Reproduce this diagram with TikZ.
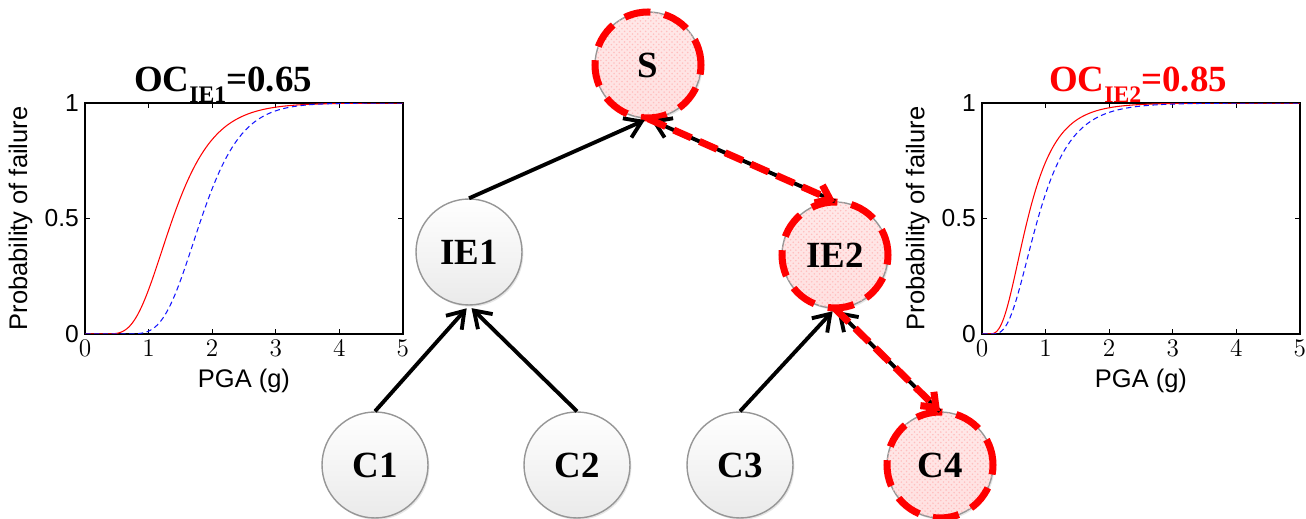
\documentclass[tikz,border=0pt]{standalone}
\usepackage{fontspec}
\setmainfont{Liberation Serif}
\setsansfont{Liberation Sans}
\usepackage{tikz,pgfplots}
\pgfplotsset{compat=1.18}
\usetikzlibrary{arrows.meta,shadows,patterns}
\definecolor{ocred}{RGB}{255,0,0}
\definecolor{rimgray}{RGB}{150,150,150}
\definecolor{ballgray}{RGB}{234,234,234}
\definecolor{fragblue}{RGB}{20,20,255}
\tikzset{
  fnode/.style={draw=rimgray, line width=0.8pt, circle, minimum size=2.12cm, inner sep=0pt,
                top color=white, bottom color=ballgray,
                drop shadow={opacity=0.2, shadow xshift=0.8pt, shadow yshift=-1pt},
                font=\fontsize{21}{21}\selectfont\bfseries},
  hotnode/.style={fnode, top color=red!9, bottom color=red!12,
                  postaction={pattern=crosshatch dots, pattern color=red!25},
                  postaction={draw=ocred, line width=4pt, dash pattern=on 15pt off 8pt}},
  arr/.style={draw=black, line width=2.2pt, shorten >=2pt,
              -{Straight Barb[length=9pt,width=12pt]}},
  hotarr/.style={draw=ocred, line width=4pt, dash pattern=on 11pt off 5pt,
                 -{Straight Barb[length=7pt,width=11pt]}},
  octitle/.style={anchor=base, font=\fontsize{21}{21}\selectfont\bfseries},
  % normal cdf of a lognormal fragility: median, dispersion
  declare function={zln(\x,\m,\b)=ln(\x/\m)/\b;
                    phi(\z)=1/(1+exp(-(0.07056*\z^3+1.5976*\z)));},
}
\pgfplotsset{
  fragaxis/.style={scale only axis, width=6.36cm, height=4.62cm, anchor=south west,
                   xmin=0, xmax=5, ymin=0, ymax=1,
                   xtick={0,...,5}, ytick={0,0.5,1}, yticklabels={0,0.5,1},
                   tick align=inside, major tick length=3pt,
                   axis line style={line width=0.7pt},
                   every tick/.style={black, line width=0.5pt},
                   tick label style={font=\sffamily\fontsize{14}{14}\selectfont},
                   label style={font=\sffamily\fontsize{14.5}{15}\selectfont},
                   xlabel={PGA (g)}, ylabel={Probability of failure}},
  redcurve/.style={ocred, line width=0.6pt, domain=0.005:5, samples=250},
  bluecurve/.style={fragblue, line width=0.6pt, dash pattern=on 3pt off 2pt, domain=0.005:5, samples=250},
}
\newcommand{\ocsub}[1]{\raisebox{-0.28em}{\fontsize{13.5}{13.5}\selectfont #1}}

\begin{document}
\begin{tikzpicture}[x=0.02cm, y=-0.02cm]
\useasboundingbox (0,0) rectangle (1306,519);

% Fragility plots
\coordinate (plotL) at (85,334);
\coordinate (plotR) at (982,334);
\begin{axis}[fragaxis, at={(plotL)}]
  \addplot[redcurve] {phi(zln(x,1.38,0.37))};
  \addplot[bluecurve] {phi(zln(x,1.83,0.27))};
\end{axis}
\begin{axis}[fragaxis, at={(plotR)}]
  \addplot[redcurve] {phi(zln(x,0.72,0.50))};
  \addplot[bluecurve] {phi(zln(x,0.88,0.47))};
\end{axis}

\node[octitle] (ocL) at (223,92) {OC\ocsub{IE1}=0.65};
\node[octitle, text=ocred] (ocR) at (1138,92) {OC\ocsub{IE2}=0.85};

% System tree
\node[hotnode] (S)   at (648,65)  {S};
\node[fnode]   (IE1) at (469,252) {IE1};
\node[hotnode] (IE2) at (835,255) {IE2};
\node[fnode]   (C1)  at (375,465) {C1};
\node[fnode]   (C2)  at (577,465) {C2};
\node[fnode]   (C3)  at (740,465) {C3};
\node[hotnode] (C4)  at (940,465) {C4};

\draw[arr] (IE1.north) -- (S.south);
\draw[arr] (IE2.north) -- (S.south);
\draw[arr] (C1.north) -- (IE1.south);
\draw[arr] (C2.north) -- (IE1.south);
\draw[arr] (C3.north) -- (IE2.south);
\draw[arr] (C4.north) -- (IE2.south);

% Critical path
\draw[hotarr] (S.south) -- (IE2.north);
\draw[hotarr] (IE2.south) -- (C4.north);

\end{tikzpicture}
\end{document}
